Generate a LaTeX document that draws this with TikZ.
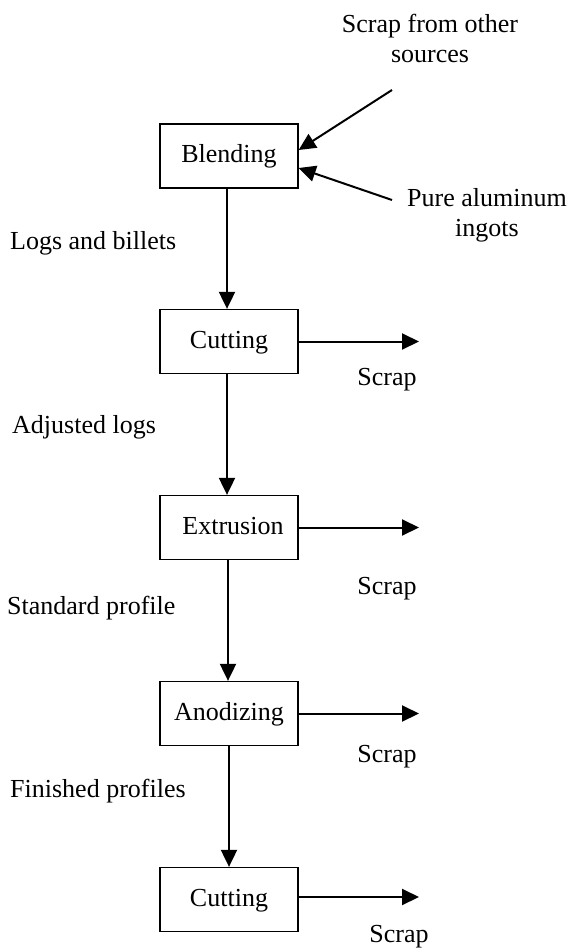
\documentclass[tikz,border=0pt]{standalone}
\usepackage{fontspec}
\setmainfont{Liberation Serif}
\usetikzlibrary{arrows.meta}
\begin{document}
\begin{tikzpicture}[x=1pt,y=-1pt,
  font=\fontsize{26}{30}\selectfont,
  procbox/.style={draw, line width=1.3pt, minimum width=138pt, minimum height=64pt, inner sep=0pt, text height=17pt, text depth=3pt},
  lbl/.style={inner sep=0pt},
  flow/.style={line width=2pt, -{Triangle[length=17pt,width=16pt]}}]
\useasboundingbox (0,0) rectangle (573,949);
\node[procbox] (blend) at (229,156) {Blending};
\node[procbox] (cut1) at (229,341.5) {Cutting};
\node[procbox] (extr) at (229,527.5) {\hspace{8pt}Extrusion};
\node[procbox] (anod) at (229,713.5) {Anodizing};
\node[procbox] (cut2) at (229,899.5) {Cutting};

\node[lbl, align=center] (t1) at (430,38) {Scrap from other\\sources};
\node[lbl, align=center] (t2) at (487,215) {Pure aluminum\\ingots};
\coordinate (src1) at (392,90);
\coordinate (src2) at (392,200);
\draw[flow] (src1) -- ([yshift=6pt]blend.east);
\draw[flow] (src2) -- ([yshift=-12pt]blend.east);

\node[lbl, anchor=west] (l1) at (10,243) {Logs and billets};
\node[lbl, anchor=west] (l2) at (12,427) {Adjusted logs};
\node[lbl, anchor=west] (l3) at (7,608) {Standard profile};
\node[lbl, anchor=west] (l4) at (10,791) {Finished profiles};

\draw[flow] ([xshift=-2pt]blend.south) -- ([xshift=-2pt]cut1.north);
\draw[flow] ([xshift=-2pt]cut1.south) -- ([xshift=-2pt]extr.north);
\draw[flow] ([xshift=-1pt]extr.south) -- ([xshift=-1pt]anod.north);
\draw[flow] (anod.south) -- (cut2.north);

\coordinate (e1) at (419,341.5);
\coordinate (e2) at (419,527.5);
\coordinate (e3) at (419,713.5);
\coordinate (e4) at (419,897);
\draw[flow] (cut1.east) -- (e1);
\draw[flow] (extr.east) -- (e2);
\draw[flow] (anod.east) -- (e3);
\draw[flow] (cut2.east |- e4) -- (e4);

\node[lbl] (s1) at (387,380) {Scrap};
\node[lbl] (s2) at (387,589) {Scrap};
\node[lbl] (s3) at (387,757) {Scrap};
\node[lbl] (s4) at (399,937) {Scrap};
\end{tikzpicture}
\end{document}
